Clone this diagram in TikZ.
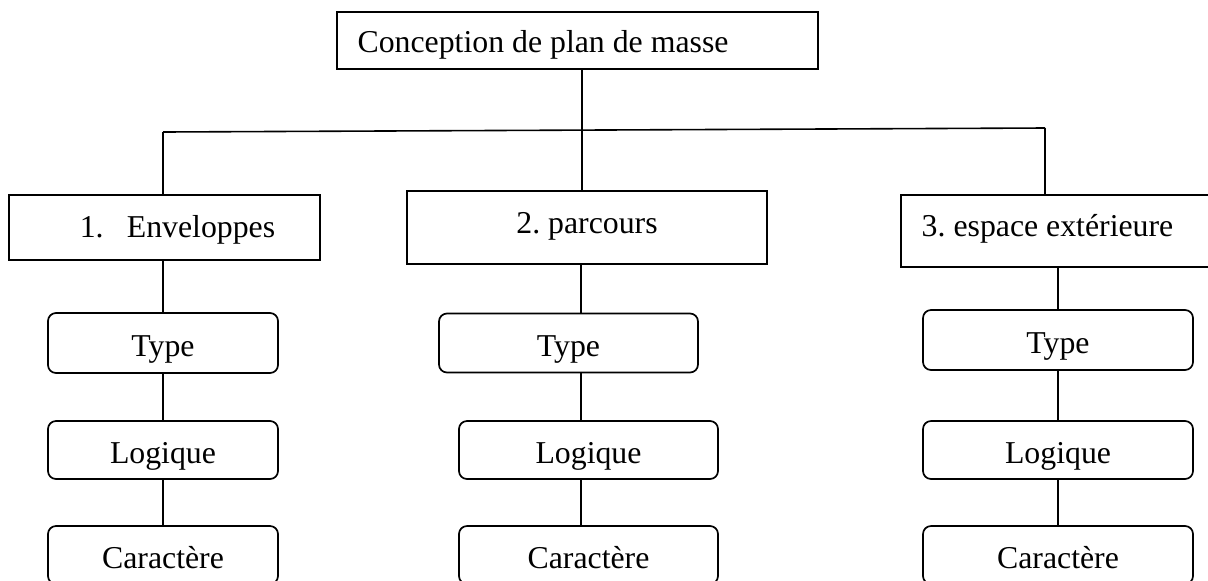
\documentclass[tikz,border=0pt]{standalone}
\usepackage{fontspec}
\setmainfont{Liberation Serif}
\begin{document}
\begin{tikzpicture}[x=0.5pt,y=-0.5pt,
  every node/.style={font=\fontsize{15.9pt}{19pt}\selectfont\frenchspacing},
  sqbox/.style={draw,line width=0.85pt,rectangle,text depth=0pt},
  rbox/.style={draw,line width=0.85pt,rectangle,rounded corners=4pt,text height=13.5pt,text depth=0pt},
  link/.style={line width=0.8pt}]
\useasboundingbox (0,0) rectangle (1208,580);
% top
\node[sqbox,minimum width=240.5pt,minimum height=28.5pt,text height=11.5pt] (T) at (577.5,40.5) {Conception de plan de masse\hspace*{34.5pt}};
% level 1
\node[sqbox,minimum width=155.5pt,minimum height=32.5pt,text height=9.5pt] (B1) at (164.5,227.5) {\hspace*{13pt}1.\hspace{11.6pt}Enveloppes};
\node[sqbox,minimum width=180pt,minimum height=36.5pt,text height=5.5pt] (B2) at (587,227.5) {2. parcours};
\node[sqbox,minimum width=155.5pt,minimum height=36pt,text height=5pt] (B3) at (1056.5,231) {3. espace extérieure\hspace*{9pt}};
% column 1
\node[rbox,minimum width=115pt,minimum height=30pt] (Ty1) at (163,343) {Type};
\node[rbox,minimum width=115pt,minimum height=29pt] (Lo1) at (163,450) {Logique};
\node[rbox,minimum width=115pt,minimum height=29pt] (Ca1) at (163,555) {Caractère};
% column 2
\node[rbox,minimum width=129.5pt,minimum height=29.5pt] (Ty2) at (568.5,343) {Type};
\node[rbox,minimum width=129.5pt,minimum height=29pt] (Lo2) at (588.5,450) {Logique};
\node[rbox,minimum width=129.5pt,minimum height=29pt] (Ca2) at (588.5,555) {Caractère};
% column 3
\node[rbox,minimum width=135pt,minimum height=30pt] (Ty3) at (1058,340) {Type};
\node[rbox,minimum width=135pt,minimum height=29pt] (Lo3) at (1058,450) {Logique};
\node[rbox,minimum width=135pt,minimum height=29pt] (Ca3) at (1058,555) {Caractère};
% connectors
\coordinate (hl) at (163,132);
\coordinate (hr) at (1045,128);
\coordinate (hub) at (582,130);
\coordinate (c2) at (581,0);
\draw[link] (T.south -| hub) -- (hub);
\draw[link] (hl) -- (hr);
\draw[link] (hl) -- (hl |- B1.north);
\draw[link] (hub) -- (hub |- B2.north);
\draw[link] (hr) -- (hr |- B3.north);
\draw[link] (Ty1.north |- B1.south) -- (Ty1.north);
\draw[link] (Ty1.south) -- (Lo1.north);
\draw[link] (Lo1.south) -- (Ca1.north);
\draw[link] (c2 |- B2.south) -- (c2 |- Ty2.north);
\draw[link] (c2 |- Ty2.south) -- (c2 |- Lo2.north);
\draw[link] (c2 |- Lo2.south) -- (c2 |- Ca2.north);
\draw[link] (Ty3.north |- B3.south) -- (Ty3.north);
\draw[link] (Ty3.south) -- (Lo3.north);
\draw[link] (Lo3.south) -- (Ca3.north);
\end{tikzpicture}
\end{document}
